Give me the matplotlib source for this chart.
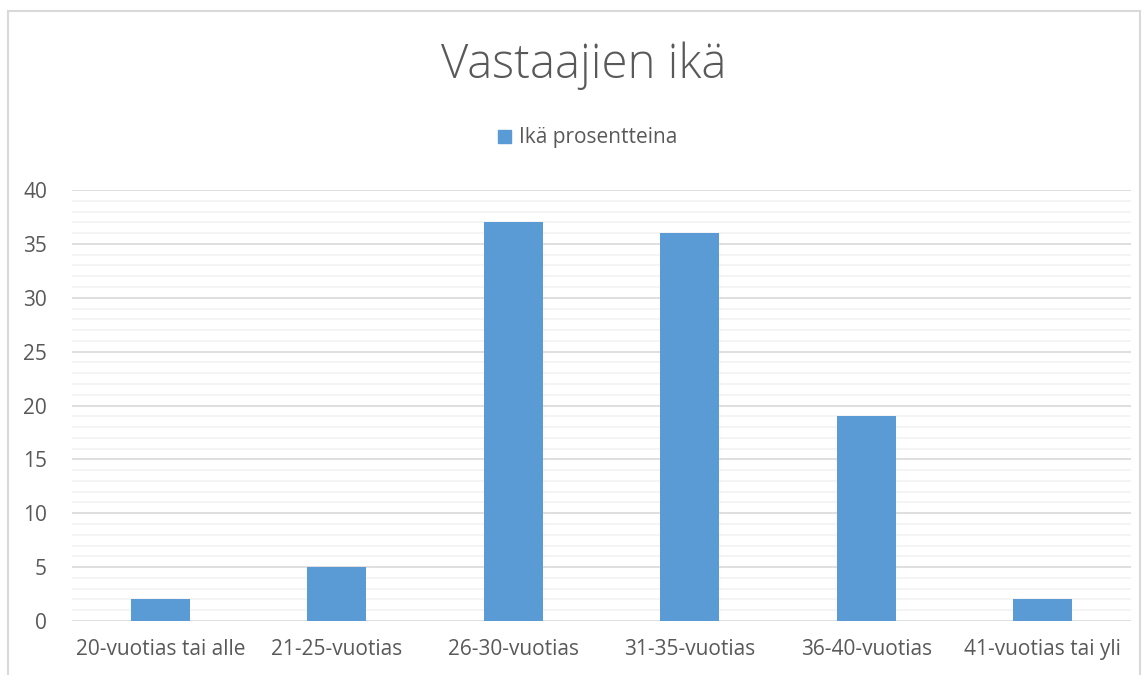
import numpy as np
import matplotlib.pyplot as plt
from matplotlib.lines import Line2D
from matplotlib.patches import Patch

# Vastaajien ikä - column chart
categories = ['20-vuotias tai alle', '21-25-vuotias', '26-30-vuotias',
              '31-35-vuotias', '36-40-vuotias', '41-vuotias tai yli']
values = [2, 5, 37, 36, 19, 2]
series_name = 'Ikä prosentteina'

bar_color = '#5B9BD5'
text_color = '#595959'

plt.rcParams['font.family'] = ['Open Sans', 'DejaVu Sans']

W, H = 1147, 675
fig = plt.figure(figsize=(W/100, H/100), dpi=100)

# plot area in pixels
left, right, top, bottom = 72, 1131, 190, 621
ax = fig.add_axes([left/W, 1 - bottom/H, (right-left)/W, (bottom-top)/H])

x = np.arange(len(categories))
ax.bar(x, values, width=0.335, color=bar_color, zorder=3)
ax.set_xlim(-0.5, len(categories) - 0.5)
ax.set_ylim(0, 40)
ax.set_yticks(np.arange(0, 41, 5))
ax.set_yticks(np.arange(0, 41, 1), minor=True)
ax.grid(axis='y', which='minor', color='#F2F2F2', linewidth=1.2, zorder=0)
ax.grid(axis='y', which='major', color='#D9D9D9', linewidth=1.2, zorder=1)
ax.set_xticks(x)
ax.set_xticklabels(categories)
ax.tick_params(axis='both', which='both', length=0, colors=text_color, labelsize=15)
ax.tick_params(axis='x', pad=13)
ax.tick_params(axis='y', pad=18)
for s in ax.spines.values():
    s.set_visible(False)

# chart border (bottom edge is outside the picture)
bx0, by0, bx1 = 8, 11, 1140
fig.add_artist(Line2D([bx0/W, bx0/W], [0, 1 - by0/H], color='#D9D9D9', lw=1.5))
fig.add_artist(Line2D([bx0/W, bx1/W], [1 - by0/H, 1 - by0/H], color='#D9D9D9', lw=1.5))
fig.add_artist(Line2D([bx1/W, bx1/W], [0, 1 - by0/H], color='#D9D9D9', lw=1.5))

fig.text(584/W, 1 - 66/H, 'Vastaajien ikä', ha='center', va='center',
         fontsize=34, color=text_color, fontweight='light')

fig.legend(handles=[Patch(color=bar_color, label=series_name)],
           loc='center', bbox_to_anchor=(588/W, 1 - 138/H), frameon=False,
           fontsize=15, labelcolor=text_color, handlelength=0.6, handleheight=0.6,
           handletextpad=0.4)

fig.savefig('out.png', dpi=100)
